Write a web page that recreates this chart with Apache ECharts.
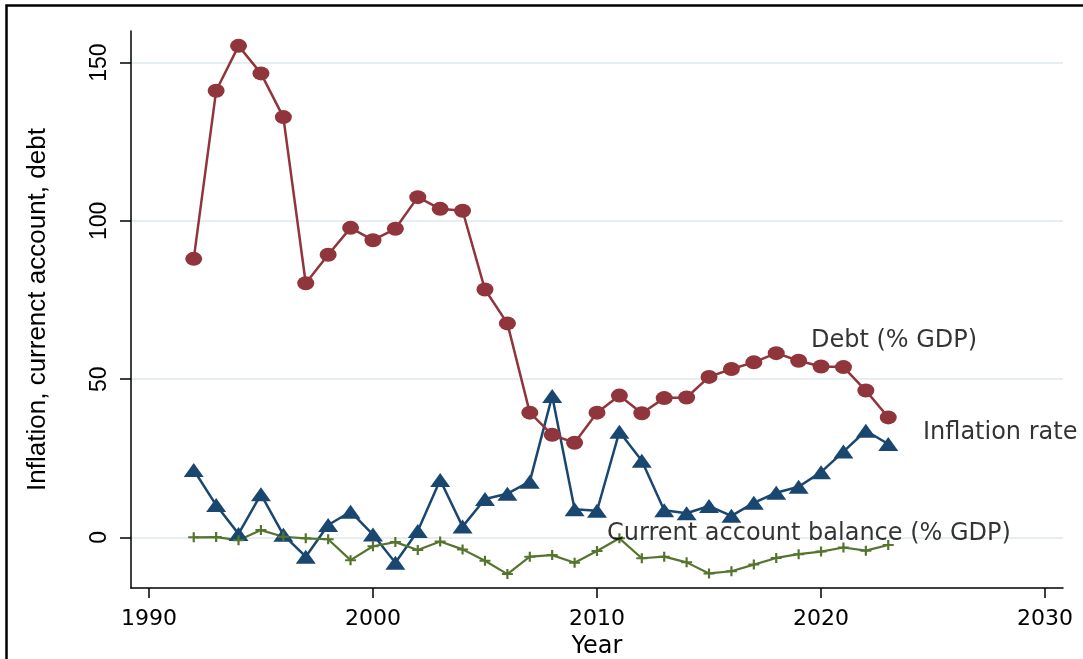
<!DOCTYPE html>
<html>
<head>
<meta charset="utf-8">
<script src="https://cdn.jsdelivr.net/npm/echarts@6/dist/echarts.min.js"></script>
<style>
html,body{margin:0;padding:0;background:#fff;}
#chart{width:1083px;height:659px;}
</style>
</head>
<body>
<div id="chart"></div>
<script>
const years = [1992,1993,1994,1995,1996,1997,1998,1999,2000,2001,2002,2003,2004,2005,2006,2007,2008,2009,2010,2011,2012,2013,2014,2015,2016,2017,2018,2019,2020,2021,2022,2023];
const debt = [88.0,141.1,155.3,146.6,132.8,80.3,89.3,97.8,93.9,97.5,107.5,103.8,103.2,78.3,67.6,39.4,32.4,29.9,39.4,44.8,39.2,44.0,44.2,50.7,53.2,55.3,58.2,55.8,54.0,53.8,46.4,37.9];
const inflation = [21.3,10.2,1.1,13.6,0.8,-6.1,3.9,8.1,0.9,-8.0,2.0,18.1,3.4,12.1,13.8,17.6,44.7,8.9,8.4,33.4,24.2,8.6,7.6,9.9,6.8,10.9,14.1,16.0,20.6,27.1,33.7,29.5];
const currentAccount = [0.0,0.1,-0.9,2.3,0.2,-0.3,-0.6,-7.2,-2.8,-1.5,-4.0,-1.3,-3.8,-7.4,-11.6,-6.1,-5.6,-8.0,-4.3,-0.3,-6.6,-6.1,-7.9,-11.4,-10.7,-8.6,-6.5,-5.3,-4.5,-3.2,-4.2,-2.4];
const xTicks = [1990,2000,2010,2020,2030];
const yTicks = [0,50,100,150];
const annoText = ['Debt (% GDP)','Inflation rate','Current account balance (% GDP)'];
const annoX = [2019.55,2024.55,2010.45];
const annoY = [62.0,33.0,1.0];

const chart = echarts.init(document.getElementById('chart'));
const axisLineStyle = {color:'#000', width:1.5};
const plusPath = 'path://M4,0H6V4H10V6H6V10H4V6H0V4H4Z';

chart.setOption({
  animation:false,
  backgroundColor:'#ffffff',
  graphic:[{
    type:'rect', silent:true, z:-10,
    shape:{x:6.5, y:5.5, width:1300, height:900},
    style:{fill:'none', stroke:'#000', lineWidth:2.5}
  }],
  grid:{left:131, right:20, top:31, bottom:71, containLabel:false, outerBoundsMode:'none'},
  xAxis:{
    type:'value', min:1989.2, max:2030.8,
    axisLine:{show:true, onZero:false, lineStyle:axisLineStyle},
    axisTick:{show:true, inside:false, length:10, customValues:xTicks, lineStyle:axisLineStyle},
    axisLabel:{customValues:xTicks, margin:20, formatter:v=>String(v),
      fontFamily:'DejaVu Sans', fontSize:22, color:'#000'},
    splitLine:{show:false},
    name:'Year', nameLocation:'middle', nameGap:38,
    nameTextStyle:{fontFamily:'DejaVu Sans', fontSize:24, color:'#000'}
  },
  yAxis:{
    type:'value', min:-16, max:160,
    axisLine:{show:true, onZero:false, lineStyle:axisLineStyle},
    axisTick:{show:true, inside:false, length:11, customValues:yTicks, lineStyle:axisLineStyle},
    axisLabel:{customValues:yTicks, rotate:90, margin:20, formatter:v=>String(v),
      fontFamily:'Liberation Sans', fontSize:23, color:'#000'},
    splitLine:{show:true, lineStyle:{color:'#e6eef1', width:2}},
    name:'Inflation, currenct account, debt', nameLocation:'middle', nameRotate:90, nameGap:80,
    nameTextStyle:{fontFamily:'Liberation Sans', fontSize:26, color:'#000'}
  },
  series:[
    {
      name:'Inflation rate', type:'line',
      data:years.map((y,i)=>[y, inflation[i]]),
      symbol:'triangle', symbolSize:[20,14],
      lineStyle:{color:'#1a476f', width:2.5},
      itemStyle:{color:'#1a476f'}
    },
    {
      name:'Current account balance (% GDP)', type:'line',
      data:years.map((y,i)=>[y, currentAccount[i]]),
      symbol:plusPath, symbolSize:[11,10],
      lineStyle:{color:'#55752f', width:2.2},
      itemStyle:{color:'#55752f'}
    },
    {
      name:'Debt (% GDP)', type:'line',
      data:years.map((y,i)=>[y, debt[i]]),
      symbol:'circle', symbolSize:[17,14],
      lineStyle:{color:'#90353b', width:2.5},
      itemStyle:{color:'#90353b'}
    },
    {
      name:'labels', type:'scatter', silent:true, z:10,
      symbolSize:0,
      data:annoText.map((t,i)=>({name:t, value:[annoX[i], annoY[i]]})),
      label:{show:true, position:'right', distance:0, formatter:p=>p.name,
        fontFamily:'DejaVu Sans', fontSize:24, color:'#000', align:'left', verticalAlign:'middle'}
    }
  ]
});
</script>
</body>
</html>
